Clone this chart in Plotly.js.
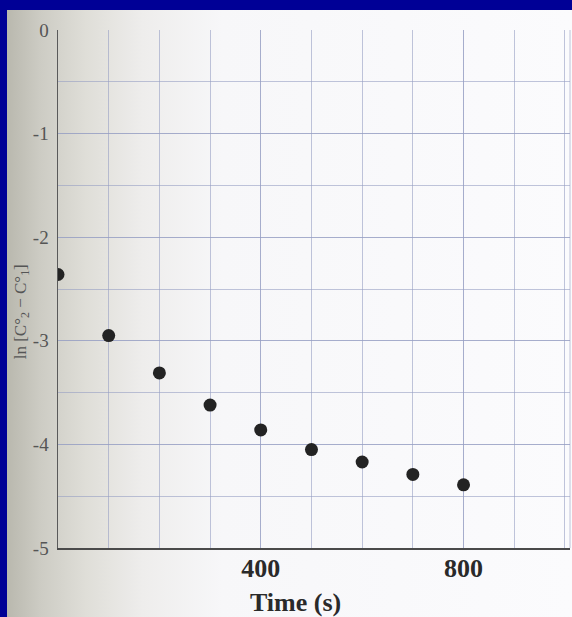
<!DOCTYPE html>
<html>
<head>
<meta charset="utf-8">
<script src="https://cdn.plot.ly/plotly-3.0.1.min.js"></script>
<style>
  html, body { margin: 0; padding: 0; width: 572px; height: 617px; overflow: hidden; background: #000096; }
  #paper { position: absolute; left: 7px; top: 10px; right: 0; bottom: 0;
    background: linear-gradient(to right, #b9b8ae 0%, #cdccc4 6%, #dfded8 14%, #eeedec 24%, #f7f7f9 38%, #fbfbfd 100%); }
  #chart { position: absolute; left: 0; top: 0; width: 572px; height: 617px; }
</style>
</head>
<body>
<div id="paper"></div>
<div id="chart"></div>
<script>
// Data
const times = [0, 100, 200, 300, 400, 500, 600, 700, 800];
const lnValues = [-2.36, -2.95, -3.31, -3.62, -3.86, -4.05, -4.17, -4.29, -4.39];

// Tick labels and grid positions
const xTickVals = [400, 800];
const xTickText = ['400', '800'];
const xGridVals = [0, 100, 200, 300, 400, 500, 600, 700, 800, 900, 1000];
const yTickVals = [0, -1, -2, -3, -4, -5];
const yTickText = ['0', '-1', '-2', '-3', '-4', '-5'];
const yGridVals = [0, -0.5, -1, -1.5, -2, -2.5, -3, -3.5, -4, -4.5, -5];

const xTitle = 'Time (s)';
const yTitle = 'ln [C°<sub>2</sub> − C°<sub>1</sub>]';

const trace = {
  x: times,
  y: lnValues,
  type: 'scatter',
  mode: 'markers',
  marker: { color: '#232323', size: 13 },
  hoverinfo: 'x+y'
};

const gridCol = 'rgba(150,158,195,0.6)';
const serif = 'Liberation Serif, Times New Roman, serif';

const layout = {
  width: 572,
  height: 617,
  margin: { l: 58, r: 2, t: 30, b: 69, pad: 0 },
  paper_bgcolor: 'rgba(0,0,0,0)',
  plot_bgcolor: 'rgba(0,0,0,0)',
  showlegend: false,
  xaxis: {
    range: [0, 1010],
    tickmode: 'array',
    tickvals: xTickVals,
    ticktext: xTickText,
    showgrid: true,
    gridcolor: gridCol,
    gridwidth: 1,
    minor: { tickmode: 'array', tickvals: xGridVals, showgrid: true, gridcolor: gridCol, gridwidth: 1, ticks: '' },
    zeroline: false,
    showline: true,
    linecolor: '#4a4a4a',
    linewidth: 2,
    ticks: '',
    ticklabelstandoff: -4,
    tickfont: { family: serif, size: 26, color: '#2a2a2a', weight: 'bold' },
    fixedrange: true
  },
  yaxis: {
    range: [-5, 0],
    tickmode: 'array',
    tickvals: yTickVals,
    ticktext: yTickText,
    showgrid: true,
    gridcolor: gridCol,
    gridwidth: 1,
    minor: { tickmode: 'array', tickvals: yGridVals, showgrid: true, gridcolor: gridCol, gridwidth: 1, ticks: '' },
    zeroline: false,
    showline: true,
    linecolor: '#5a5a5a',
    linewidth: 1.5,
    ticks: '',
    ticklabelstandoff: 4,
    tickfont: { family: serif, size: 19, color: '#555' },
    fixedrange: true
  },
  shapes: [
    { type: 'line', xref: 'paper', yref: 'paper', x0: 1, x1: 1, y0: 0, y1: 1,
      line: { color: gridCol, width: 1 } }
  ],
  annotations: [
    { text: '<b>' + xTitle + '</b>', xref: 'paper', yref: 'paper', x: 0.463, y: 0,
      yshift: -54, showarrow: false, xanchor: 'center', yanchor: 'middle',
      font: { family: serif, size: 26, color: '#2a2a2a' } },
    { text: yTitle, xref: 'paper', yref: 'paper', x: 0, y: 0.455, xshift: -36,
      showarrow: false, textangle: -90, xanchor: 'center', yanchor: 'middle',
      font: { family: serif, size: 17, color: '#555' } }
  ]
};

Plotly.newPlot('chart', [trace], layout, { displayModeBar: false, staticPlot: true });
</script>
</body>
</html>
